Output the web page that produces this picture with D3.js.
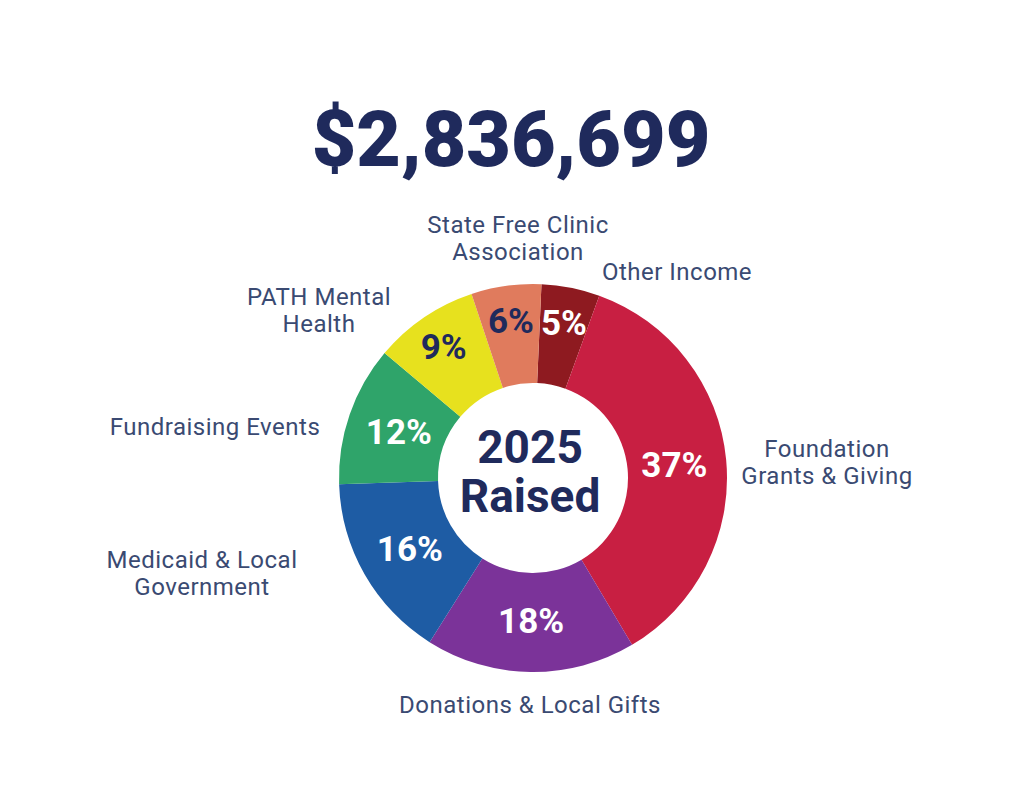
<!DOCTYPE html>
<html>
<head>
<meta charset="utf-8">
<script src="https://cdn.jsdelivr.net/npm/d3@7"></script>
<style>
  html, body { margin: 0; padding: 0; background: #ffffff; }
  svg { display: block; }
</style>
</head>
<body>
<svg id="chart" width="1028" height="808"></svg>
<script>
// ---- data ----
const totalRaised = "$2,836,699";
const centerLines = ["2025", "Raised"];
const categories = [
  "Other Income",
  "Foundation Grants & Giving",
  "Donations & Local Gifts",
  "Medicaid & Local Government",
  "Fundraising Events",
  "PATH Mental Health",
  "State Free Clinic Association"
];
const percents = [5, 37, 18, 16, 12, 9, 6];
const labelLines = [
  ["Other Income"],
  ["Foundation", "Grants & Giving"],
  ["Donations & Local Gifts"],
  ["Medicaid & Local", "Government"],
  ["Fundraising Events"],
  ["PATH Mental", "Health"],
  ["State Free Clinic", "Association"]
];

// ---- styles / layout ----
const colors = ["#8e1a20", "#c81f42", "#7b3399", "#1e5ca4", "#2fa46a", "#e7e11e", "#e07b5d"];
const pctColors = ["#ffffff", "#ffffff", "#ffffff", "#ffffff", "#ffffff", "#1f2a5c", "#1f2a5c"];
const labelOffsets = [ // label anchor (middle) relative to donut centre, first-line baseline
  [144, -198],
  [294, -21],
  [-3, 235],
  [-331, 90],
  [-318, -43],
  [-214, -173],
  [-15, -245]
];
const navy = "#1f2a5c";
const labelColor = "#3a4a72";
const cx = 533, cy = 478, rOuter = 194, rInner = 95;
const startOffset = 2.5 * Math.PI / 180;

const svg = d3.select("#chart");

svg.append("text")
  .attr("x", 511).attr("y", 166)
  .attr("text-anchor", "middle")
  .attr("font-family", "Roboto, 'Open Sans', sans-serif")
  .attr("font-weight", 900)
  .attr("font-size", 77)
  .attr("fill", navy)
  .text(totalRaised);

const g = svg.append("g").attr("transform", `translate(${cx},${cy})`);

const pie = d3.pie().sort(null).value(d => d)
  .startAngle(startOffset).endAngle(2 * Math.PI + startOffset);
const arcs = pie(percents);
const arc = d3.arc().innerRadius(rInner).outerRadius(rOuter);

g.selectAll("path.slice").data(arcs).join("path")
  .attr("class", "slice")
  .attr("d", arc)
  .attr("fill", (d, i) => colors[i]);

// percent labels
g.selectAll("text.pct").data(arcs).join("text")
  .attr("class", "pct")
  .attr("transform", d => {
    const a = (d.startAngle + d.endAngle) / 2;
    const r = d.data < 10 ? 159 : 142;
    return `translate(${Math.sin(a) * r},${-Math.cos(a) * r})`;
  })
  .attr("text-anchor", "middle")
  .attr("dy", "0.36em")
  .attr("font-family", "Roboto, sans-serif")
  .attr("font-weight", 700)
  .attr("font-size", 35)
  .attr("fill", (d, i) => pctColors[i])
  .text(d => d.data + "%");

// center text
g.selectAll("text.center").data(centerLines).join("text")
  .attr("class", "center")
  .attr("x", -3)
  .attr("y", (d, i) => -15 + i * 49)
  .attr("text-anchor", "middle")
  .attr("font-family", "Roboto, sans-serif")
  .attr("font-weight", 700)
  .attr("font-size", 46)
  .attr("fill", navy)
  .text(d => d);

// category labels
const lab = g.selectAll("text.cat").data(labelLines).join("text")
  .attr("class", "cat")
  .attr("text-anchor", "middle")
  .attr("font-family", "Roboto, sans-serif")
  .attr("font-size", 24)
  .attr("letter-spacing", 0.5)
  .attr("fill", labelColor);
lab.each(function(lines, i) {
  const t = d3.select(this);
  lines.forEach((ln, j) => {
    t.append("tspan")
      .attr("x", labelOffsets[i][0])
      .attr("y", labelOffsets[i][1] + j * 27)
      .text(ln);
  });
});
</script>
</body>
</html>
